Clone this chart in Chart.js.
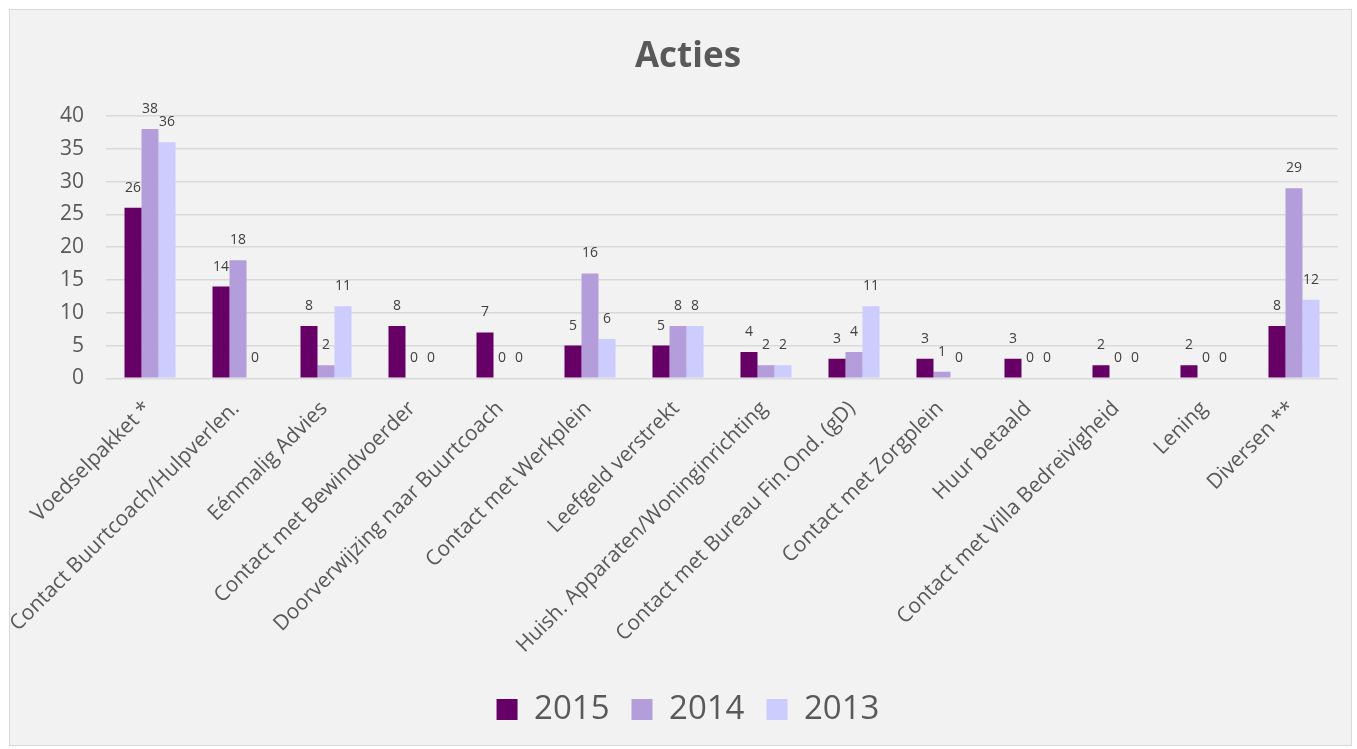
<!DOCTYPE html>
<html>
<head>
<meta charset="utf-8">
<script src="https://cdn.jsdelivr.net/npm/chart.js@4"></script>
<style>
  html, body { margin: 0; padding: 0; background: #ffffff; }
  #card { position: absolute; left: 9px; top: 9px; width: 1343px; height: 737px; background: #f2f2f2; border: 1px solid #d9d9d9; box-sizing: border-box; }
  canvas { position: absolute; left: 0; top: 0; }
</style>
</head>
<body>
<div id="card"><canvas id="c" width="1341" height="735"></canvas></div>
<script>
const categories = ["Voedselpakket *","Contact Buurtcoach/Hulpverlen.","Eénmalig Advies","Contact met Bewindvoerder","Doorverwijzing naar Buurtcoach","Contact met Werkplein","Leefgeld verstrekt","Huish. Apparaten/Woninginrichting","Contact met Bureau Fin.Ond. (gD)","Contact met Zorgplein","Huur betaald","Contact met Villa Bedreivigheid","Lening","Diversen **"];
const values2015 = [26,14,8,8,7,5,5,4,3,3,3,2,2,8];
const values2014 = [38,18,2,0,0,16,8,2,4,1,0,0,0,29];
const values2013 = [36,0,11,0,0,6,8,2,11,0,0,0,0,12];
const yTicks = [0,5,10,15,20,25,30,35,40];

const FONT = "'Open Sans', 'DejaVu Sans', sans-serif";
const TEXT = '#595959';

const labelPlugin = {
  id: 'valueLabels',
  afterDatasetsDraw(chart) {
    const ctx = chart.ctx;
    ctx.save();
    ctx.font = '14px ' + FONT;
    ctx.fillStyle = '#404040';
    ctx.textAlign = 'center';
    ctx.textBaseline = 'middle';
    chart.data.datasets.forEach((ds, i) => {
      const meta = chart.getDatasetMeta(i);
      meta.data.forEach((bar, j) => {
        ctx.fillText(String(ds.data[j]), bar.x, bar.y - 20);
      });
    });
    ctx.restore();
  }
};

new Chart(document.getElementById('c'), {
  type: 'bar',
  data: {
    labels: categories,
    datasets: [
      { label: '2015', data: values2015, backgroundColor: '#660066' },
      { label: '2014', data: values2014, backgroundColor: '#b39ddb' },
      { label: '2013', data: values2013, backgroundColor: '#ccccff' }
    ]
  },
  options: {
    responsive: false,
    animation: false,
    devicePixelRatio: 1,
    datasets: { bar: { categoryPercentage: 0.58, barPercentage: 1.0, borderWidth: 0 } },
    layout: { padding: { left: 28, right: 13, top: 0, bottom: 9 } },
    plugins: {
      title: {
        display: true, text: 'Acties', color: TEXT,
        font: { family: FONT, size: 35, weight: 'bold' },
        padding: { top: 26, bottom: 38 }
      },
      legend: {
        position: 'bottom',
        labels: {
          color: TEXT, font: { family: FONT, size: 33 },
          boxWidth: 21, boxHeight: 21, padding: 22
        }
      },
      tooltip: { enabled: false }
    },
    scales: {
      x: {
        afterFit(scale) { scale.height -= 5; },
        grid: { display: false, drawTicks: false },
        border: { display: false },
        ticks: {
          color: TEXT, font: { family: FONT, size: 21 },
          minRotation: 45, maxRotation: 45, autoSkip: false, padding: 18, labelOffset: -2
        }
      },
      y: {
        min: 0, max: 40,
        afterBuildTicks(axis) { axis.ticks = yTicks.map(v => ({ value: v })); },
        grid: { color: '#d9d9d9', lineWidth: 1.5, drawTicks: false },
        border: { display: false },
        ticks: {
          color: TEXT, font: { family: FONT, size: 21 }, padding: 22
        }
      }
    }
  },
  plugins: [labelPlugin]
});
</script>
</body>
</html>
